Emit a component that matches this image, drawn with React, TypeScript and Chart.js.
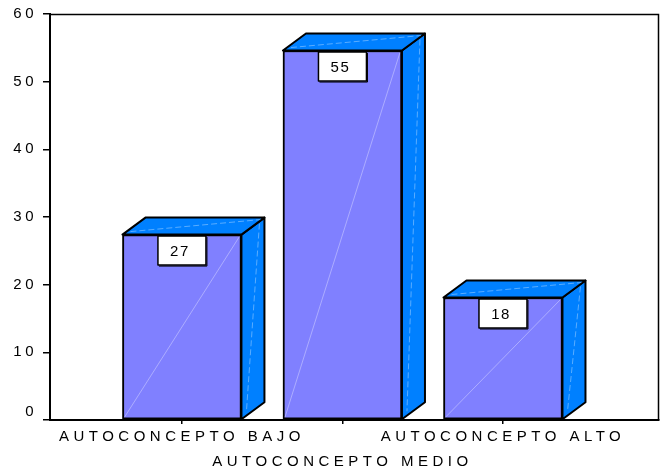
import { useEffect, useRef } from 'react';
import { Chart, registerables } from 'chart.js';

Chart.register(...registerables);

const categories = ['AUTOCONCEPTO BAJO', 'AUTOCONCEPTO MEDIO', 'AUTOCONCEPTO ALTO'];
const positions = [1, 2, 3];
const values = [27.4, 54.6, 18.1];
const valueLabels = ['27', '55', '18'];
const yMin = 0;
const yMax = 60;
const yStep = 10;

const FONT = "'Liberation Sans', Arial, sans-serif";

const framePlugin = {
  id: 'frame',
  beforeDraw(chart: any) {
    chart.ctx.letterSpacing = '3.5px';
  },
  beforeDatasetsDraw(chart: any) {
    const { ctx, chartArea } = chart;
    ctx.save();
    ctx.strokeStyle = '#000';
    ctx.lineWidth = 1.5;
    ctx.beginPath();
    ctx.moveTo(chartArea.left, chartArea.top + 0.5);
    ctx.lineTo(chartArea.right - 0.5, chartArea.top + 0.5);
    ctx.lineTo(chartArea.right - 0.5, chartArea.bottom);
    ctx.stroke();
    ctx.restore();
  },
};

const bar3dPlugin = {
  id: 'bar3d',
  afterDatasetsDraw(chart: any) {
    const ctx = chart.ctx;
    const meta = chart.getDatasetMeta(0);
    const dx = 23;
    const dy = 17;
    ctx.save();
    ctx.lineJoin = 'round';
    meta.data.forEach((bar: any, i: number) => {
      const p = bar.getProps(['x', 'y', 'base', 'width'], true);
      const L = p.x - p.width / 2;
      const R = p.x + p.width / 2;
      const T = p.y;
      const B = p.base;
      // side face
      ctx.beginPath();
      ctx.moveTo(R, T);
      ctx.lineTo(R + dx, T - dy);
      ctx.lineTo(R + dx, B - dy);
      ctx.lineTo(R, B);
      ctx.closePath();
      ctx.fillStyle = '#0080FF';
      ctx.fill();
      ctx.strokeStyle = '#000';
      ctx.lineWidth = 2;
      ctx.stroke();
      // top face
      ctx.beginPath();
      ctx.moveTo(L, T);
      ctx.lineTo(L + dx, T - dy);
      ctx.lineTo(R + dx, T - dy);
      ctx.lineTo(R, T);
      ctx.closePath();
      ctx.fillStyle = '#0080FF';
      ctx.fill();
      ctx.stroke();
      // highlights
      ctx.strokeStyle = 'rgba(255,255,255,0.35)';
      ctx.lineWidth = 1;
      ctx.beginPath();
      ctx.moveTo(L + 2, B - 2);
      ctx.lineTo(R - 2, T + 2);
      ctx.stroke();
      ctx.setLineDash([6, 3]);
      ctx.beginPath();
      ctx.moveTo(R + dx - 5, T - dy + 6);
      ctx.lineTo(R + 5, B - 8);
      ctx.stroke();
      ctx.beginPath();
      ctx.moveTo(L + 8, T - 3);
      ctx.lineTo(R + dx - 4, T - dy + 2);
      ctx.stroke();
      ctx.setLineDash([]);
      // value box
      const bw = 48;
      const bh = 29;
      const bx = p.x - bw / 2;
      const by = T + 1.5;
      ctx.fillStyle = '#fff';
      ctx.fillRect(bx, by, bw, bh);
      ctx.strokeStyle = '#000';
      ctx.lineWidth = 1.5;
      ctx.strokeRect(bx, by, bw, bh);
      ctx.lineWidth = 1;
      ctx.beginPath();
      ctx.moveTo(bx + bw + 1, by + 1);
      ctx.lineTo(bx + bw + 1, by + bh + 1);
      ctx.lineTo(bx + 1, by + bh + 1);
      ctx.stroke();
      ctx.fillStyle = '#000';
      ctx.font = `15px ${FONT}`;
      ctx.letterSpacing = '1.5px';
      ctx.textAlign = 'center';
      ctx.textBaseline = 'middle';
      ctx.fillText(valueLabels[i], p.x - 2, by + bh / 2 + 1);
    });
    ctx.restore();
    ctx.letterSpacing = '4.5px';
  },
};

export default function App() {
  const ref = useRef<HTMLCanvasElement>(null);
  useEffect(() => {
    if (!ref.current) return;
    const chart = new Chart(ref.current, {
      type: 'bar',
      data: {
        datasets: [
          {
            data: positions.map((x, i) => ({ x, y: values[i] })),
            backgroundColor: '#8080FF',
            borderColor: '#000',
            borderWidth: 2,
            borderSkipped: false,
            barThickness: 119,
          } as any,
        ],
      },
      options: {
        responsive: false,
        animation: false,
        layout: { padding: { top: 10, right: 2, left: 0, bottom: 0 } },
        plugins: { legend: { display: false }, tooltip: { enabled: false } },
        scales: {
          x: {
            type: 'linear',
            offset: false,
            min: 0.178,
            max: 3.972,
            afterBuildTicks: (scale: any) => {
              scale.ticks = positions.map((v) => ({ value: v }));
            },
            afterFit: (scale: any) => {
              scale.height = 54;
            },
            grid: {
              display: true,
              offset: false,
              drawOnChartArea: false,
              drawTicks: true,
              tickLength: 4,
              color: '#000',
              lineWidth: 1.5,
            },
            border: { display: true, color: '#000', width: 2 },
            ticks: {
              z: 1,
              autoSkip: false,
              maxRotation: 0,
              minRotation: 0,
              padding: 0,
              color: '#000',
              font: { family: FONT, size: 15, lineHeight: 25 / 15 },
              callback: (v: any) => {
                const i = positions.indexOf(Number(v));
                if (i < 0) return '';
                return i % 2 === 1 ? ['', categories[i]] : categories[i];
              },
            },
          },
          y: {
            min: yMin,
            max: yMax,
            afterFit: (scale: any) => {
              scale.width = 50;
            },
            grid: {
              display: true,
              drawOnChartArea: false,
              drawTicks: true,
              tickLength: 7,
              color: '#000',
              lineWidth: 1.5,
            },
            border: { display: true, color: '#000', width: 2 },
            ticks: {
              stepSize: yStep,
              padding: 6,
              color: '#000',
              font: { family: FONT, size: 15, lineHeight: 16 / 15 },
              callback: (v: any) => (Number(v) === 0 ? ['0', ''] : String(v)),
            },
          },
        },
      },
      plugins: [framePlugin, bar3dPlugin],
    });
    return () => chart.destroy();
  }, []);
  return (
    <div style={{ position: 'absolute', left: 0, top: 0, width: 661, height: 474, background: '#fff' }}>
      <canvas ref={ref} width={661} height={474} style={{ display: 'block' }} />
    </div>
  );
}
